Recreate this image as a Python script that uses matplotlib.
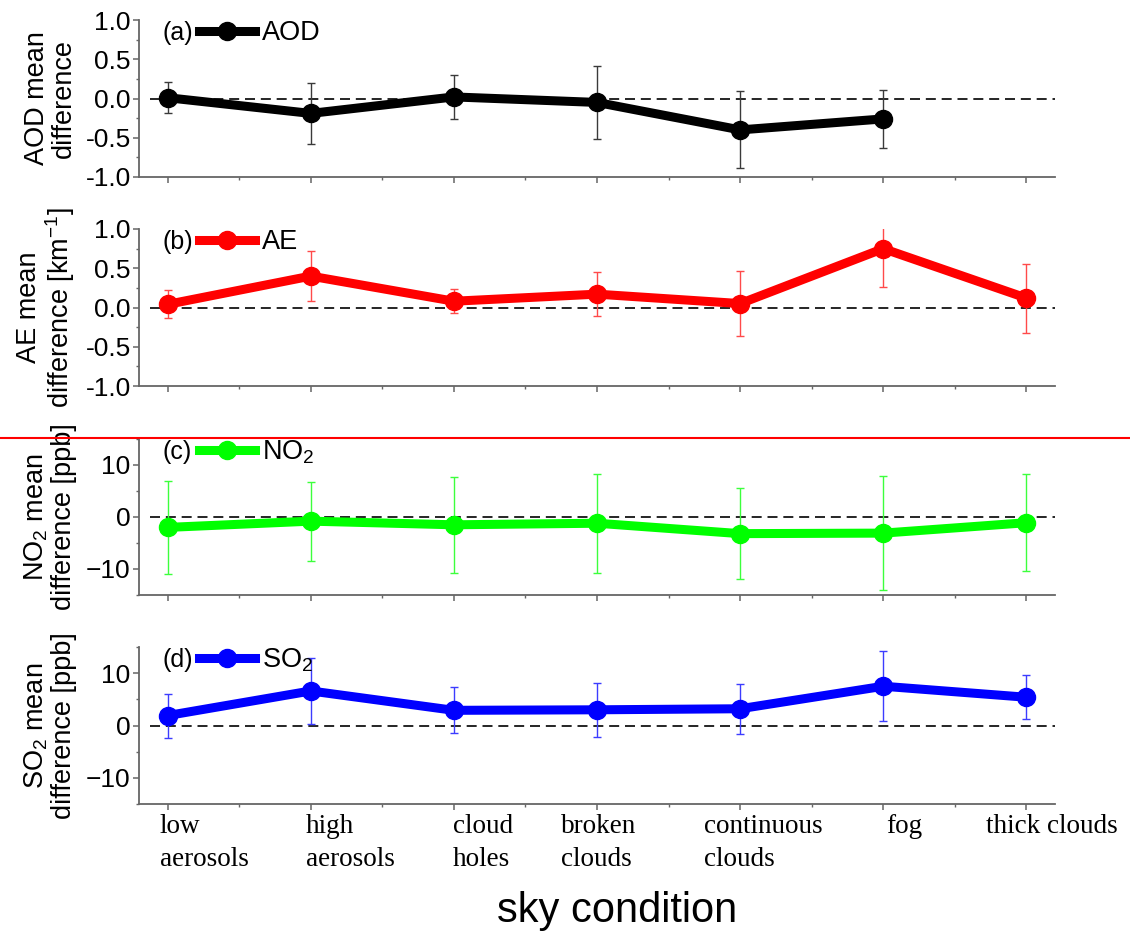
import matplotlib
matplotlib.use("Agg")
import matplotlib.pyplot as plt
import numpy as np
from matplotlib.lines import Line2D
from matplotlib.ticker import MultipleLocator, FormatStrFormatter
from matplotlib.transforms import ScaledTranslation, blended_transform_factory

plt.rcParams['font.family'] = ['Liberation Sans', 'DejaVu Sans']
plt.rcParams['mathtext.fontset'] = 'custom'
plt.rcParams['mathtext.rm'] = 'Liberation Sans'
plt.rcParams['mathtext.it'] = 'Liberation Sans:italic'

# ---- data ----
categories = ["low\naerosols", "high\naerosols", "cloud\nholes", "broken\nclouds",
              "continuous\nclouds", "fog", "thick clouds"]

aod_mean = [0.01, -0.19, 0.02, -0.05, -0.40, -0.26, np.nan]
aod_err = [0.20, 0.39, 0.28, 0.47, 0.49, 0.37, np.nan]

ae_mean = [0.04, 0.40, 0.08, 0.17, 0.05, 0.75, 0.12]
ae_err = [0.18, 0.32, 0.15, 0.28, 0.41, 0.49, 0.44]

no2_mean = [-2.0, -0.8, -1.5, -1.2, -3.2, -3.1, -1.1]
no2_err = [8.9, 7.6, 9.2, 9.5, 8.8, 11.0, 9.3]

so2_mean = [1.9, 6.6, 2.9, 3.0, 3.2, 7.5, 5.4]
so2_err = [4.2, 6.3, 4.4, 5.2, 4.8, 6.7, 4.2]

panel_tags = ["(a)", "(b)", "(c)", "(d)"]
series_names = ["AOD", "AE", "NO$_2$", "SO$_2$"]
ylabels = ["AOD mean\ndifference", "AE mean\ndifference [km$^{-1}$]",
           "NO$_2$ mean\ndifference [ppb]", "SO$_2$ mean\ndifference [ppb]"]
means = [aod_mean, ae_mean, no2_mean, so2_mean]
errs = [aod_err, ae_err, no2_err, so2_err]
colors = ["#000000", "#ff0000", "#00ff00", "#0000ff"]
err_colors = ["#3a3a3a", "#ff4a4a", "#3cff3c", "#3c3cff"]

# ---- layout ----
W, H = 1130, 934
fig = plt.figure(figsize=(W / 100, H / 100), dpi=100)
left = 139 / W
width = (1055 - 139) / W
panels_px = [(20, 177), (229, 386), (439, 595), (647, 804)]

x = np.arange(len(categories))
spine_col = "#666666"
label_dx = [-8, -5, -1, -36, -36, 3, -40]

for i, (top, bot) in enumerate(panels_px):
    ax = fig.add_axes([left, 1 - bot / H, width, (bot - top) / H])
    ax.errorbar(x, means[i], yerr=errs[i], fmt='none', ecolor=err_colors[i],
                elinewidth=1.0, capsize=3, capthick=1.0, zorder=2)
    ln, = ax.plot(x, means[i], '-o', color=colors[i], lw=6.5, ms=13, zorder=3)
    ax.axhline(0, xmin=0.012, xmax=1, color='black', lw=1.2,
               linestyle=(0, (6, 3.5)), zorder=1)
    ax.set_xlim(-0.2, 6.2)
    if i < 2:
        ax.set_ylim(-1.0, 1.0)
        ax.yaxis.set_major_locator(MultipleLocator(0.5))
        ax.yaxis.set_minor_locator(MultipleLocator(0.25))
        ax.yaxis.set_major_formatter(FormatStrFormatter('%.1f'))
    else:
        ax.set_ylim(-15, 15)
        ax.yaxis.set_major_locator(MultipleLocator(10))
        ax.yaxis.set_minor_locator(MultipleLocator(5))
    ax.set_xticks(x)
    ax.set_xticks(x[:-1] + 0.5, minor=True)
    ax.set_xticklabels([])
    for s in ['top', 'right']:
        ax.spines[s].set_visible(False)
    for s in ['left', 'bottom']:
        ax.spines[s].set_color(spine_col)
        ax.spines[s].set_linewidth(1.3)
    ax.tick_params(which='major', direction='out', length=4, width=1.1,
                   color=spine_col, labelsize=19, pad=2)
    ax.tick_params(which='minor', direction='out', length=2.5, width=1.0,
                   color=spine_col)
    if i == 3:
        base = blended_transform_factory(ax.transData, ax.transAxes)
        for xi, lab, dx in zip(x, categories, label_dx):
            ax.text(xi, 0, lab, family=['Liberation Serif'], fontsize=19.5,
                    ha='left', va='top', multialignment='left', linespacing=1.4,
                    transform=base + ScaledTranslation(dx / 100, -10 / 100,
                                                       fig.dpi_scale_trans))
    ax.set_ylabel(ylabels[i], fontsize=19.5, linespacing=1.05)
    ax.yaxis.set_label_coords(-0.068, 0.5)
    # panel tag and legend
    ax.text(0.026, 0.915, panel_tags[i], transform=ax.transAxes, fontsize=18,
            va='center', ha='left')
    ax.legend([ln], [series_names[i]], loc='center left',
              bbox_to_anchor=(0.066, 0.915), frameon=False, fontsize=19.5,
              handlelength=2.05, handletextpad=0.25, borderpad=0, borderaxespad=0)

fig.text(617 / W, 1 - 922 / H, "sky condition", fontsize=30, ha='center',
         va='baseline')

fig.add_artist(Line2D([0, 1], [1 - 438 / H, 1 - 438 / H], transform=fig.transFigure,
                      color='red', lw=1.5))

fig.savefig("out.png", dpi=100)
